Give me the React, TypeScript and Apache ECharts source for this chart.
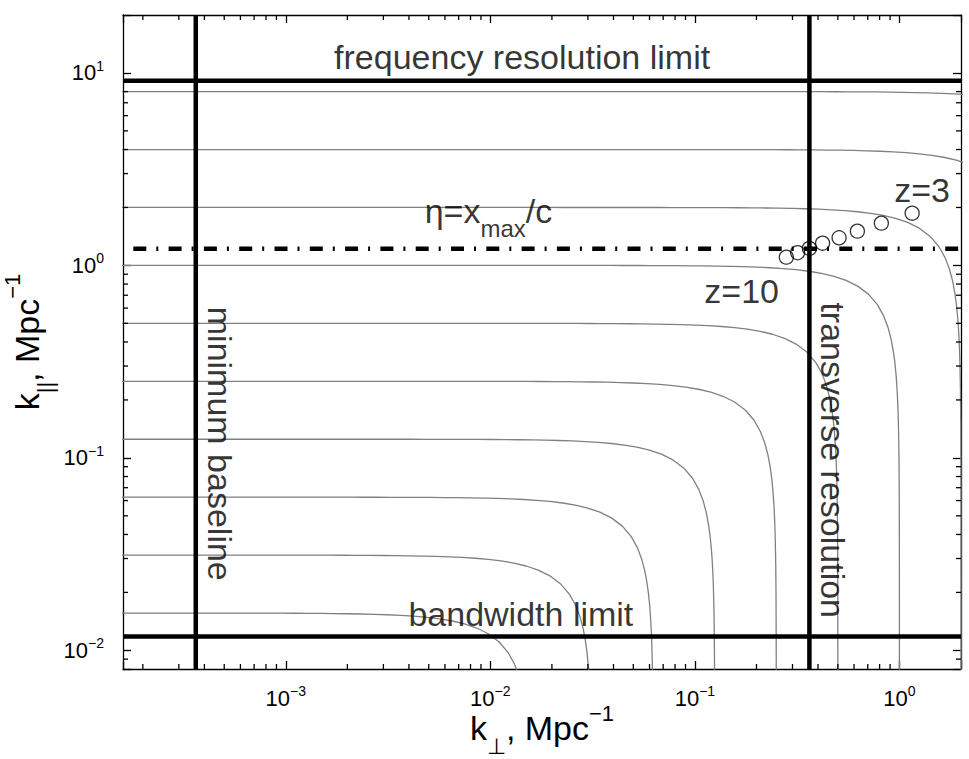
import React, { useEffect, useRef } from "react";
import * as echarts from "echarts";

// ---- axis ranges ----
const X_MIN = 1.6e-4;
const X_MAX = 2;
const Y_MIN = 0.008;
const Y_MAX = 20;

// ---- |k| iso-contour levels (grey curves) ----
const kLevels = [8, 4, 2, 1, 0.5, 0.25, 0.125, 0.0625, 0.03125, 0.015625];

// ---- thick limit lines ----
const minBaselineK = 3.63e-4;   // vertical, minimum baseline
const transverseK = 0.363;      // vertical, transverse resolution
const freqLimitK = 9.12;        // horizontal, frequency resolution limit
const bandwidthK = 0.0118;      // horizontal, bandwidth limit
const etaK = 1.22;              // dash-dot, eta = x_max / c

// ---- redshift markers z = 10 ... 3 ----
const markerKPerp = [0.28, 0.318, 0.363, 0.421, 0.507, 0.623, 0.816, 1.154];
const markerKPar = [1.104, 1.164, 1.225, 1.305, 1.392, 1.507, 1.658, 1.868];

// ---- tick layout ----
const xDecades = [-4, -3, -2, -1, 0];
const yDecades = [-3, -2, -1, 0, 1];
const minorMultipliers = [2, 3, 4, 5, 6, 7, 8, 9];

// ---- annotation texts ----
const annotationTexts = [
  "frequency resolution limit",
  "bandwidth limit",
  "minimum baseline",
  "transverse resolution",
  "z=10",
  "z=3",
  "{a|η=x}{sub|max}{a|/c}",
];
const annotationAnchorX = [0.0143, 0.0141, 4.77e-4, 0.4754, 0.1693, 1.291, 0.009788];
const annotationAnchorY = [12.14, 0.01541, 0.1184, 0.09726, 0.732, 2.466, 1.911];
const annotationRotate = [0, 0, -90, -90, 0, 0, 0];

const FONT = "'Liberation Sans', Arial, Helvetica, sans-serif";

function isoKCurve(k: number): number[][] {
  const pts: number[][] = [];
  const N = 90;
  const lo = 1e-6;
  const hi = Math.PI / 4;
  for (let i = 0; i <= N; i++) {
    const t = lo * Math.pow(hi / lo, i / N);
    pts.push([k * Math.sin(t), k * Math.cos(t)]);
    pts.push([k * Math.cos(t), k * Math.sin(t)]);
  }
  pts.sort((a, b) => a[0] - b[0]);
  return pts;
}

function minorValues(decades: number[], lo: number, hi: number): number[] {
  const out: number[] = [];
  decades.forEach((d) =>
    minorMultipliers.forEach((m) => {
      const v = m * Math.pow(10, d);
      if (v > lo && v < hi) out.push(v);
    })
  );
  return out;
}

function powLabel(v: number): string {
  const l = Math.log10(v);
  const e = Math.round(l);
  if (Math.abs(l - e) > 1e-6) return "";
  const es = e < 0 ? "\u2212" + -e : String(e);
  return `{b|10}{s|${es}}`;
}

const tickRich = {
  b: { fontSize: 22, lineHeight: 22, fontFamily: FONT, color: "#000", verticalAlign: "middle" },
  s: { fontSize: 14, lineHeight: 14, fontFamily: FONT, color: "#000", padding: [0, 0, 14.5, 0], verticalAlign: "middle" },
};

const nameRich = {
  m: { fontSize: 34, lineHeight: 34, fontFamily: FONT, color: "#000", verticalAlign: "middle" },
  sub: { fontSize: 22, lineHeight: 10, fontFamily: FONT, color: "#000", padding: [36, 0, 0, 0], verticalAlign: "middle" },
  sup: { fontSize: 22, lineHeight: 10, fontFamily: FONT, color: "#000", padding: [0, 0, 29, 0], verticalAlign: "middle" },
};

const annRich = {
  a: { fontSize: 34, lineHeight: 34, fontFamily: FONT, color: "#000", verticalAlign: "middle" },
  sub: { fontSize: 24, lineHeight: 24, fontFamily: FONT, color: "#000", padding: [34, 0, 0, 0], verticalAlign: "middle" },
};

function baseAxis(extra: any) {
  return {
    type: "log",
    logBase: 10,
    axisLine: { show: true, onZero: false, lineStyle: { color: "#000", width: 1.3 } },
    axisTick: { show: true, inside: true, length: 8, lineStyle: { color: "#000", width: 1.3 } },
    splitLine: { show: false },
    minorTick: { show: false },
    minorSplitLine: { show: false },
    ...extra,
  };
}

export default function App() {
  const ref = useRef<HTMLDivElement>(null);
  useEffect(() => {
    if (!ref.current) return;
    const chart = echarts.init(ref.current, null, { renderer: "svg" });

    const xMinor = minorValues(xDecades, X_MIN, X_MAX);
    const yMinor = minorValues(yDecades, Y_MIN, Y_MAX);

    const thick = { color: "#000", width: 4.5 };
    const lineSeries = (name: string, data: number[][], lineStyle: any, z = 3) => ({
      name,
      type: "line",
      data,
      symbol: "none",
      showSymbol: false,
      lineStyle,
      silent: true,
      z,
      clip: true,
    });

    const series: any[] = [];
    kLevels.forEach((k) =>
      series.push(lineSeries("k=" + k, isoKCurve(k), { color: "#808080", width: 1.3 }, 2))
    );
    series.push(lineSeries("minimum baseline", [[minBaselineK, Y_MIN], [minBaselineK, Y_MAX]], thick));
    series.push(lineSeries("transverse resolution", [[transverseK, Y_MIN], [transverseK, Y_MAX]], thick));
    series.push(lineSeries("frequency resolution limit", [[X_MIN, freqLimitK], [X_MAX, freqLimitK]], thick));
    series.push(lineSeries("bandwidth limit", [[X_MIN, bandwidthK], [X_MAX, bandwidthK]], thick));
    series.push(
      lineSeries(
        "eta",
        [[X_MIN, etaK], [X_MAX, etaK]],
        { color: "#000", width: 4.5, type: [13, 10, 2, 10.3], dashOffset: 24.6, cap: "butt" },
        4
      )
    );
    series.push({
      name: "z markers",
      type: "scatter",
      data: markerKPerp.map((x, i) => [x, markerKPar[i]]),
      symbol: "circle",
      symbolSize: 14,
      itemStyle: { color: "rgba(0,0,0,0)", borderColor: "#000", borderWidth: 1.3 },
      silent: true,
      z: 5,
    });
    // minor ticks on the x axes (bottom and top)
    series.push({
      type: "custom",
      silent: true,
      clip: false,
      z: 6,
      data: xMinor.map((v) => [v, Y_MIN]),
      renderItem: (params: any, api: any) => {
        const p = api.coord([api.value(0), api.value(1)]);
        const cs = params.coordSys;
        const st = { stroke: "#000", lineWidth: 1.3 };
        return {
          type: "group",
          children: [
            { type: "line", shape: { x1: p[0], y1: cs.y + cs.height, x2: p[0], y2: cs.y + cs.height - 5 }, style: st },
            { type: "line", shape: { x1: p[0], y1: cs.y, x2: p[0], y2: cs.y + 5 }, style: st },
          ],
        };
      },
    });
    // minor ticks on the y axes (left and right)
    series.push({
      type: "custom",
      silent: true,
      clip: false,
      z: 6,
      data: yMinor.map((v) => [X_MIN, v]),
      renderItem: (params: any, api: any) => {
        const p = api.coord([api.value(0), api.value(1)]);
        const cs = params.coordSys;
        const st = { stroke: "#000", lineWidth: 1.3 };
        return {
          type: "group",
          children: [
            { type: "line", shape: { x1: cs.x, y1: p[1], x2: cs.x + 5, y2: p[1] }, style: st },
            { type: "line", shape: { x1: cs.x + cs.width, y1: p[1], x2: cs.x + cs.width - 5, y2: p[1] }, style: st },
          ],
        };
      },
    });
    // text annotations anchored in data coordinates
    series.push({
      name: "annotations",
      type: "scatter",
      symbol: "circle",
      symbolSize: 1,
      itemStyle: { color: "rgba(0,0,0,0)" },
      silent: true,
      z: 10,
      data: annotationTexts.map((t, i) => ({
        value: [annotationAnchorX[i], annotationAnchorY[i]],
        label: {
          show: true,
          position: "inside",
          formatter: t,
          rotate: annotationRotate[i],
          align: "center",
          verticalAlign: "middle",
          fontSize: 34,
          fontFamily: FONT,
          color: "#000",
          rich: annRich,
        },
      })),
    });

    chart.setOption({
      animation: false,
      backgroundColor: "#fff",
      grid: { left: 123, top: 15, right: 8, bottom: 90, containLabel: false, outerBoundsMode: "none" },
      xAxis: [
        baseAxis({
          min: X_MIN,
          max: X_MAX,
          position: "bottom",
          axisLabel: {
            show: true, margin: 18, formatter: powLabel, rich: tickRich,
            fontSize: 22, fontFamily: FONT, color: "#000",
          },
          name: "{m|k}{sub|\u22a5}{m|, Mpc}{sup|\u22121}",
          nameLocation: "middle",
          nameGap: 42,
          nameMoveOverlap: false,
          nameTextStyle: { rich: nameRich, fontSize: 34, fontFamily: FONT, color: "#000" },
        }),
        baseAxis({ min: X_MIN, max: X_MAX, position: "top", axisLabel: { show: false } }),
      ],
      yAxis: [
        baseAxis({
          min: Y_MIN,
          max: Y_MAX,
          position: "left",
          axisLabel: {
            show: true, margin: 19, formatter: powLabel, rich: tickRich,
            fontSize: 22, fontFamily: FONT, color: "#000",
          },
          name: "{m|k}{sub|||}{m|, Mpc}{sup|\u22121}",
          nameLocation: "middle",
          nameGap: 79,
          nameRotate: 90,
          nameMoveOverlap: false,
          nameTextStyle: { rich: nameRich, fontSize: 34, fontFamily: FONT, color: "#000" },
        }),
        baseAxis({ min: Y_MIN, max: Y_MAX, position: "right", axisLabel: { show: false } }),
      ],
      series,
    });
    return () => chart.dispose();
  }, []);
  return (
    <div
      ref={ref}
      style={{ position: "fixed", left: 0, top: 0, width: 969, height: 759, background: "#fff" }}
    />
  );
}
